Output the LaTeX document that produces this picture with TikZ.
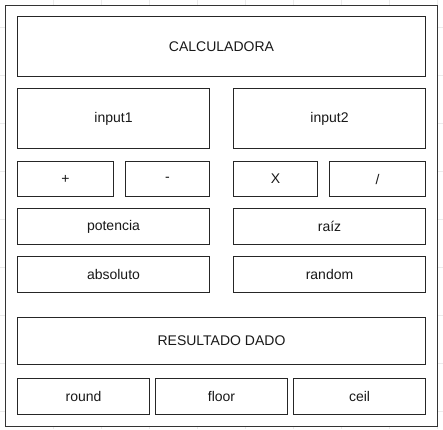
\documentclass[tikz,border=0pt]{standalone}
\usepackage{fontspec}
\setmainfont{Liberation Sans}
\begin{document}
\begin{tikzpicture}[x=1pt,y=-1pt,
  gridline/.style={draw=black!8, line width=0.6pt},
  frame/.style={draw=black!80, line width=1.2pt, fill=white, anchor=north west, inner sep=0pt},
  box/.style={draw=black!85, line width=1pt, fill=white, anchor=north west, inner sep=0pt,
    font=\fontsize{14}{16}\selectfont, text=black!90}]
\useasboundingbox (0,0) rectangle (443,429);
\foreach \x in {53,101,...,437} \draw[gridline] (\x,0) -- (\x,429);
\foreach \y in {27,75,...,429} \draw[gridline] (0,\y) -- (443,\y);
\node[frame, minimum width=432pt, minimum height=421.5pt] (outer) at (5,4.5) {};
\node[box, minimum width=408pt, minimum height=60pt] (calc) at (17,16) {CALCULADORA};
\node[box, minimum width=192pt, minimum height=60pt] (input1) at (17,88) {input1};
\node[box, minimum width=192pt, minimum height=60pt] (input2) at (233,88) {input2};
\node[box, minimum width=96pt, minimum height=35pt] (plus) at (17,161) {+};
\node[box, minimum width=84pt, minimum height=35pt] (minus) at (125,161) {-};
\node[box, minimum width=84pt, minimum height=35pt] (times) at (233,161) {X};
\node[box, minimum width=96pt, minimum height=35pt] (div) at (329,161) {/};
\node[box, minimum width=192pt, minimum height=36pt] (potencia) at (17,208) {potencia};
\node[box, minimum width=192pt, minimum height=36pt] (raiz) at (233,208) {raíz};
\node[box, minimum width=192pt, minimum height=36pt] (absoluto) at (17,256) {absoluto};
\node[box, minimum width=192pt, minimum height=36pt] (random) at (233,256) {random};
\node[box, minimum width=408pt, minimum height=47pt] (resultado) at (17,317) {RESULTADO DADO};
\node[box, minimum width=132pt, minimum height=36pt] (round) at (17,378) {round};
\node[box, minimum width=132pt, minimum height=36pt] (floor) at (155,378) {floor};
\node[box, minimum width=132pt, minimum height=36pt] (ceil) at (293,378) {ceil};
\end{tikzpicture}
\end{document}
